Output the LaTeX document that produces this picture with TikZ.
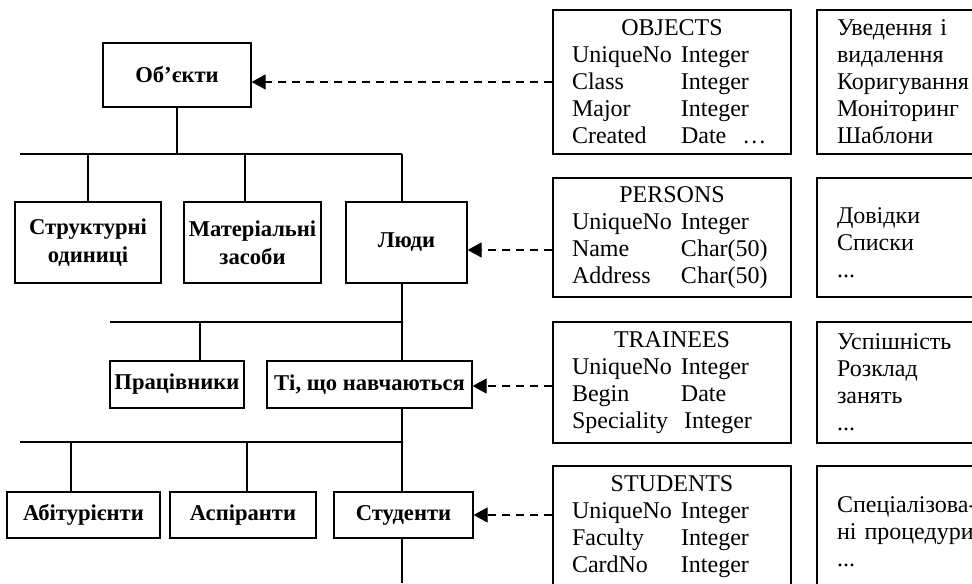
\documentclass[tikz,border=0pt]{standalone}
\usepackage{fontspec}
\setmainfont{Liberation Serif}
\usetikzlibrary{arrows.meta}
\newcommand{\fieldrow}[3][54.5pt]{\makebox[#1][l]{#2}#3}

\begin{document}
\begin{tikzpicture}[x=0.5pt,y=-0.5pt,
  cls/.style={draw,semithick,font=\fontsize{11.3}{14}\selectfont\bfseries,align=center,inner sep=0pt},
  tbl/.style={draw,semithick,font=\fontsize{12}{13.5}\selectfont,text width=100pt,inner xsep=9.5pt,inner ysep=0pt,align=left},
  proc/.style={draw,semithick,font=\fontsize{12}{13.5}\selectfont,text width=70pt,inner xsep=10pt,inner ysep=0pt,align=left},
  link/.style={semithick,dash pattern=on 4pt off 3pt,-{Triangle[length=7pt,width=7.5pt]}}]
\useasboundingbox (0,0) rectangle (972,583);

\node[cls,minimum width=74pt,minimum height=32pt] (obj) at (177,75) {Об’єкти};
\node[cls,minimum width=73pt,minimum height=40.5pt] (units) at (88,242.5) {Структурні\\одиниці};
\node[cls,minimum width=68.5pt,minimum height=40.5pt] (assets) at (252.5,242.5) {Матеріальні\\засоби};
\node[cls,minimum width=60.5pt,minimum height=40.5pt] (people) at (406.5,242.5) {Люди};
\node[cls,minimum width=67pt,minimum height=23.5pt] (staff) at (177,384.5) {Працівники};
\node[cls,minimum width=102.5pt,minimum height=23.5pt] (learners) at (369.5,384.5) {Ті, що навчаються};
\node[cls,minimum width=76.5pt,minimum height=23pt] (entrants) at (83.5,515) {Абітурієнти};
\node[cls,minimum width=73pt,minimum height=23pt] (postgrads) at (243,515) {Аспіранти};
\node[cls,minimum width=69.5pt,minimum height=23pt] (students) at (403.5,515) {Студенти};

\node[tbl,minimum height=72pt] (tobjects) at (672,82) {\makebox[100pt]{OBJECTS}\\
  \fieldrow{UniqueNo}{Integer}\\ \fieldrow{Class}{Integer}\\ \fieldrow{Major}{Integer}\\
  \fieldrow{Created}{Date\ \ \ldots}};
\node[tbl,minimum height=59.5pt] (tpersons) at (672,237.5) {\makebox[100pt]{PERSONS}\\
  \fieldrow{UniqueNo}{Integer}\\ \fieldrow{Name}{Char(50)}\\ \fieldrow{Address}{Char(50)}};
\node[tbl,minimum height=60.5pt] (ttrainees) at (672,382.5) {\makebox[100pt]{TRAINEES}\\
  \fieldrow{UniqueNo}{Integer}\\ \fieldrow{Begin}{Date}\\ \fieldrow[56pt]{Speciality}{Integer}};
\node[tbl,minimum height=60.5pt] (tstudents) at (672,526.5) {\makebox[100pt]{STUDENTS}\\
  \fieldrow{UniqueNo}{Integer}\\ \fieldrow{Faculty}{Integer}\\ \fieldrow{CardNo}{Integer}};

\node[proc,minimum height=72pt] (pobjects) at (907,82) {Уведення і\\видалення\\Коригування\\Моніторинг\\Шаблони};
\node[proc,minimum height=59.5pt] (ppersons) at (907,237.5) {\mbox{}\\Довідки\\Списки\\...};
\node[proc,minimum height=60.5pt] (ptrainees) at (907,382.5) {Успішність\\Розклад\\занять\\...};
\node[proc,minimum height=60.5pt] (pstudents) at (907,526.5) {\mbox{}\\Спеціалізова-\\ні процедури\\...};

\coordinate (b1l) at (20,154);
\coordinate (b1r) at (402,154);
\coordinate (d11) at (88,154);
\coordinate (d12) at (245,154);
\coordinate (b2l) at (110,322);
\coordinate (b2r) at (402,322);
\coordinate (d21) at (200,322);
\coordinate (b3l) at (20,442);
\coordinate (b3r) at (402,442);
\coordinate (d31) at (71,442);
\coordinate (d32) at (247,442);
\coordinate (tail) at (402,583);

\draw[semithick] (b1l) -- (b1r);
\draw[semithick] (obj.south) -- (obj.south |- b1l);
\draw[semithick] (d11) -- (d11 |- units.north);
\draw[semithick] (d12) -- (d12 |- assets.north);
\draw[semithick] (b1r) -- (b1r |- people.north);
\draw[semithick] (people.south -| b1r) -- (b1r |- learners.north);
\draw[semithick] (b2l) -- (b2r);
\draw[semithick] (d21) -- (d21 |- staff.north);
\draw[semithick] (learners.south -| b3r) -- (b3r |- students.north);
\draw[semithick] (b3l) -- (b3r);
\draw[semithick] (d31) -- (d31 |- entrants.north);
\draw[semithick] (d32) -- (d32 |- postgrads.north);
\draw[semithick] (students.south -| tail) -- (tail);

\draw[link] (tobjects.west) -- (obj.east |- tobjects.west);
\draw[link] ([yshift=-6.25pt]tpersons.west) -- ([yshift=-3.75pt]people.east);
\draw[link] ([yshift=-1.75pt]ttrainees.west) -- ([yshift=-0.75pt]learners.east);
\draw[link] (tstudents.west |- students.east) -- (students.east);
\end{tikzpicture}
\end{document}
